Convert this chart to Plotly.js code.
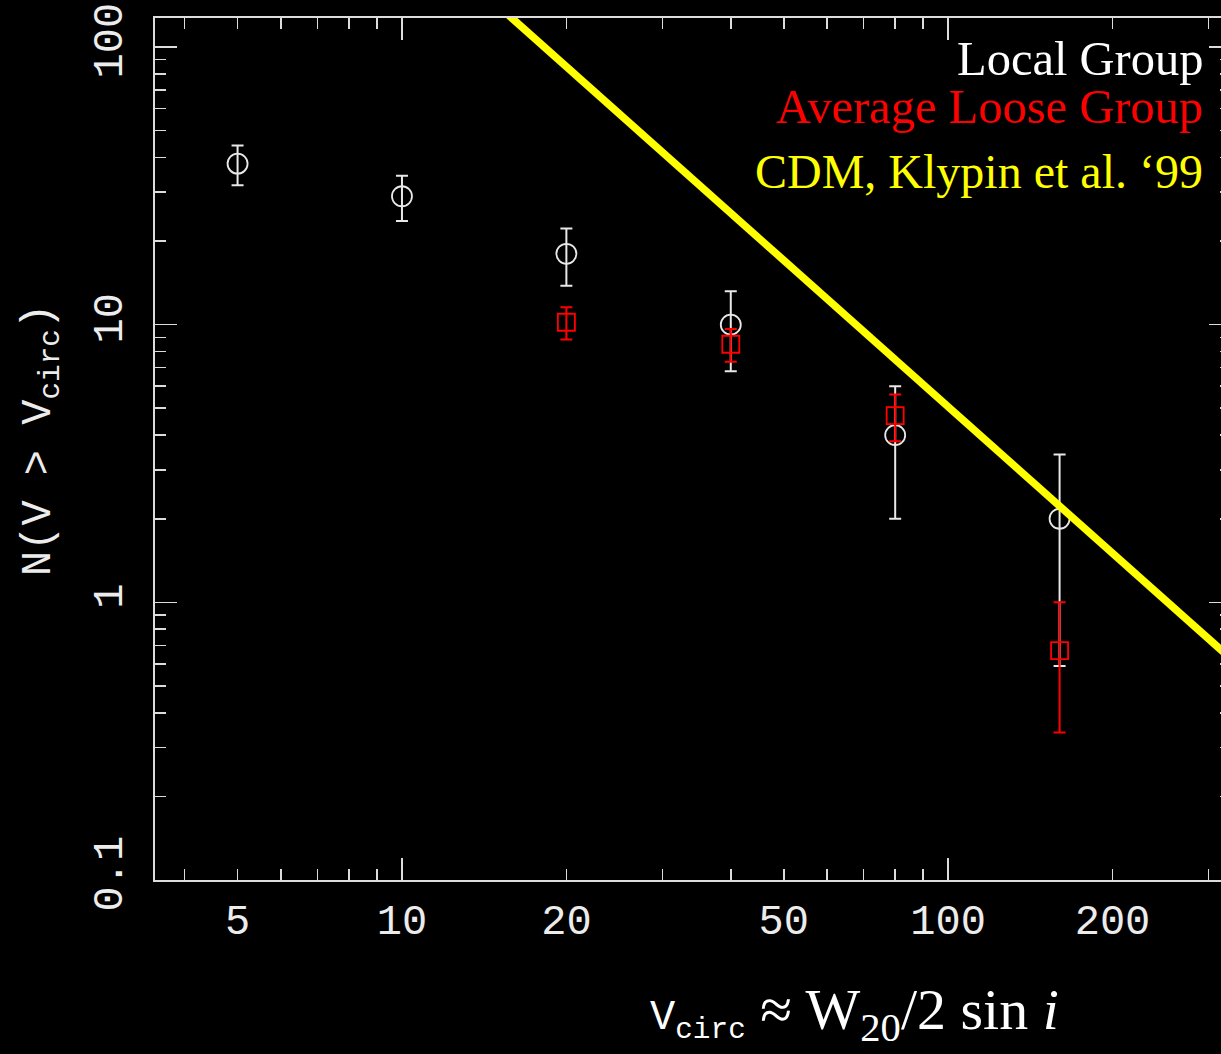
<!DOCTYPE html>
<html>
<head>
<meta charset="utf-8">
<script src="https://cdn.plot.ly/plotly-3.0.1.min.js"></script>
<style>
html, body { margin: 0; padding: 0; background: #000; overflow: hidden; }
#chart { width: 1240px; height: 1054px; }
</style>
</head>
<body>
<div id="chart"></div>
<script>
// Local Group (white circles)
const vLocal = [5, 10, 20, 40, 80, 160];
const nLocal = [38, 29, 18, 10, 4, 2];
const errLocal = [6.2, 5.4, 4.2, 3.2, 2.0, 1.41];

// Average Loose Group (red squares)
const vLoose = [20, 40, 80, 160];
const nLoose = [10.2, 8.5, 4.7, 0.67];
const errLoose = [1.35, 1.15, 0.9, 0.33];

// CDM, Klypin et al. '99 (yellow line)
const cdmV = [12, 400];
const cdmN = [208, 0.446];

// Tick labels
const xTickVals = [5, 10, 20, 50, 100, 200];
const xTickText = ['5', '10', '20', '50', '100', '200'];
const xDecadeTicks = [10, 100];
const xMinorTicks = [4, 6, 7, 8, 9, 30, 40, 60, 70, 80, 90, 300];
const yTickVals = [0.1, 1, 10, 100];
const yTickText = ['0.1', '1', '10', '100'];
const yMinorTicks = [0.2, 0.3, 0.4, 0.5, 0.6, 0.7, 0.8, 0.9, 2, 3, 4, 5, 6, 7, 8, 9, 20, 30, 40, 50, 60, 70, 80, 90];

const W = 1240, H = 1054;
const L = 155, R = 1231, T = 18, B = 880;
const pw = R - L, ph = B - T;
const px = x => (x - L) / pw;
const py = y => (B - y) / ph;

const axisColor = '#dcdcdc';
const monoFont = 'Liberation Mono, DejaVu Sans Mono, monospace';
const serifFont = 'Liberation Serif, Times New Roman, serif';

const xRange = [Math.log10(3.53), 2.518];
const yRange = [-1, 2.1044];

const traces = [
  {
    x: vLocal, y: nLocal, type: 'scatter', mode: 'markers',
    marker: { symbol: 'circle-open', size: 20, color: '#e8e8e8', line: { width: 1.8, color: '#e8e8e8' } },
    error_y: { type: 'data', array: errLocal, visible: true, color: '#e8e8e8', thickness: 2, width: 6 },
    xaxis: 'x', yaxis: 'y', showlegend: false, hoverinfo: 'x+y'
  },
  {
    x: vLoose, y: nLoose, type: 'scatter', mode: 'markers',
    marker: { symbol: 'square-open', size: 17, color: '#ff0000', line: { width: 1.8, color: '#ff0000' } },
    error_y: { type: 'data', array: errLoose, visible: true, color: '#ff0000', thickness: 2, width: 6 },
    xaxis: 'x', yaxis: 'y', showlegend: false, hoverinfo: 'x+y'
  },
  {
    x: cdmV, y: cdmN, type: 'scatter', mode: 'lines',
    line: { color: '#ffff00', width: 7.5 },
    xaxis: 'x2', yaxis: 'y', showlegend: false, hoverinfo: 'skip'
  }
];

const layout = {
  width: W, height: H,
  paper_bgcolor: '#000', plot_bgcolor: '#000',
  margin: { l: L, r: W - R, t: T, b: H - B, pad: 0 },
  font: { family: monoFont, color: '#ececec', size: 42 },
  showlegend: false,
  xaxis: {
    type: 'log', range: xRange, autorange: false,
    showgrid: false, zeroline: false,
    showline: true, linecolor: axisColor, linewidth: 2, mirror: 'ticks',
    ticks: 'inside', ticklen: 11, tickwidth: 1.6, tickcolor: axisColor,
    tickmode: 'array', tickvals: xTickVals, ticktext: xTickText,
    tickfont: { family: monoFont, size: 42, color: '#ececec' },
    ticklabelstandoff: 2,
    minor: { tickmode: 'array', tickvals: xMinorTicks, ticks: 'inside', ticklen: 11, tickwidth: 1.6, tickcolor: axisColor, showgrid: false },
    fixedrange: true
  },
  xaxis2: {
    type: 'log', range: xRange, autorange: false, overlaying: 'x', anchor: 'y', side: 'bottom',
    showgrid: false, zeroline: false,
    showline: true, linecolor: axisColor, linewidth: 2, mirror: 'ticks',
    ticks: 'inside', ticklen: 22, tickwidth: 1.6, tickcolor: axisColor,
    tickmode: 'array', tickvals: xDecadeTicks, showticklabels: false,
    fixedrange: true
  },
  yaxis: {
    type: 'log', range: yRange, autorange: false,
    showgrid: false, zeroline: false,
    showline: true, linecolor: axisColor, linewidth: 2, mirror: 'ticks',
    ticks: 'inside', ticklen: 22, tickwidth: 1.6, tickcolor: axisColor,
    tickmode: 'array', tickvals: yTickVals, ticktext: yTickText,
    tickangle: -90,
    tickfont: { family: monoFont, size: 42, color: '#ececec' },
    ticklabelstandoff: 14,
    minor: { tickmode: 'array', tickvals: yMinorTicks, ticks: 'inside', ticklen: 11, tickwidth: 1.6, tickcolor: axisColor, showgrid: false },
    fixedrange: true
  },
  annotations: [
    {
      xref: 'paper', yref: 'paper', x: px(1205), y: py(58), xanchor: 'right', yanchor: 'middle',
      text: 'Local Group', showarrow: false,
      font: { family: serifFont, size: 48.5, color: '#ffffff' }
    },
    {
      xref: 'paper', yref: 'paper', x: px(1205), y: py(106), xanchor: 'right', yanchor: 'middle',
      text: 'Average Loose Group', showarrow: false,
      font: { family: serifFont, size: 48.5, color: '#ff0000' }
    },
    {
      xref: 'paper', yref: 'paper', x: px(1205), y: py(171), xanchor: 'right', yanchor: 'middle',
      text: 'CDM, Klypin et al. \u201899', showarrow: false,
      font: { family: serifFont, size: 48, color: '#ffff00' }
    },
    {
      xref: 'paper', yref: 'paper', x: px(42), y: py(440), xanchor: 'center', yanchor: 'middle',
      text: 'N(V > V<sub>circ</sub>)', showarrow: false, textangle: -90,
      font: { family: monoFont, size: 42, color: '#ececec' }
    },
    {
      xref: 'paper', yref: 'paper', x: px(648), y: py(1013), xanchor: 'left', yanchor: 'middle',
      text: '<span style="font-family:Liberation Mono;font-size:42px">V<sub>circ</sub></span> \u2248 W<sub>20</sub>/2 sin <i>i</i>',
      showarrow: false,
      font: { family: serifFont, size: 58, color: '#ffffff' }
    }
  ]
};

Plotly.newPlot('chart', traces, layout, { staticPlot: true, displayModeBar: false });
</script>
</body>
</html>
